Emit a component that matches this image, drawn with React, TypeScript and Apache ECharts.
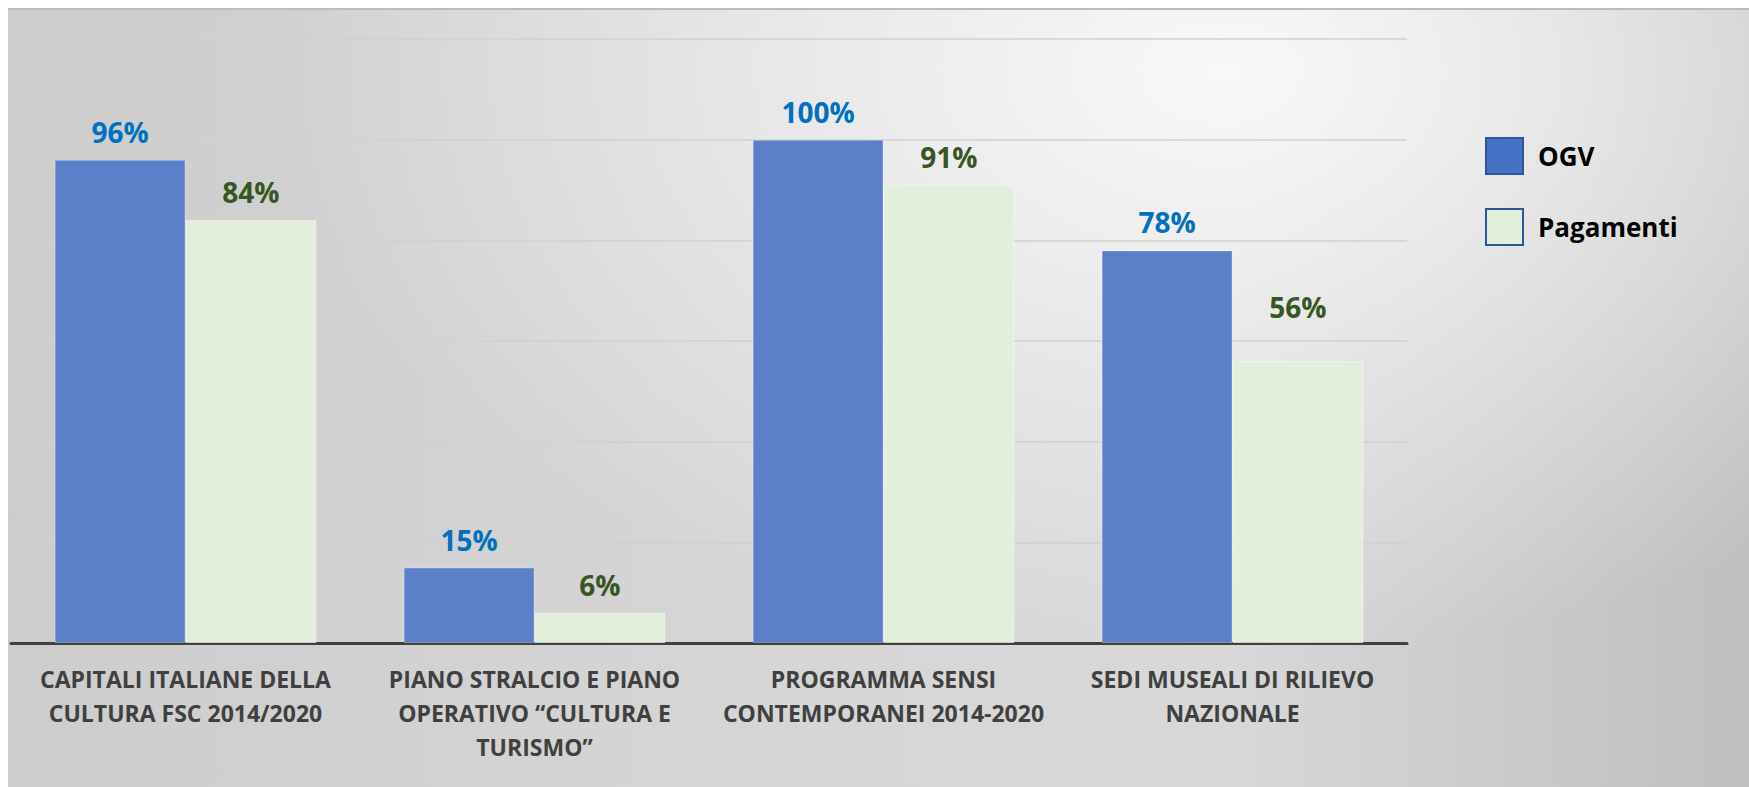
import React, { useEffect, useRef } from "react";
import * as echarts from "echarts";

const categories = [
  "CAPITALI ITALIANE DELLA\nCULTURA FSC 2014/2020",
  "PIANO STRALCIO E PIANO\nOPERATIVO “CULTURA E\nTURISMO”",
  "PROGRAMMA SENSI\nCONTEMPORANEI 2014-2020",
  "SEDI MUSEALI DI RILIEVO\nNAZIONALE",
];
const ogv = [96, 15, 100, 78];
const pagamenti = [84, 6, 91, 56];
const yTicks = [0, 20, 40, 60, 80, 100, 120];
// label offsets above bars (the 56% label sits higher in the original)
const pagamentiLabelDistance = [14, 14, 14, 40];

const FONT = "'Open Sans', Lato, sans-serif";

export default function App() {
  const ref = useRef<HTMLDivElement>(null);
  useEffect(() => {
    if (!ref.current) return;
    const chart = echarts.init(ref.current, undefined, { renderer: "svg" });
    chart.setOption({
      animation: false,
      backgroundColor: "transparent",
      textStyle: { fontFamily: FONT },
      grid: { left: 3, right: 342, top: 31, bottom: 144, containLabel: false },
      legend: {
        orient: "vertical",
        left: 1477,
        top: 129,
        padding: 0,
        itemWidth: 37,
        itemHeight: 36,
        itemGap: 33,
        icon: "rect",
        textStyle: {
          fontFamily: FONT,
          fontWeight: "bold",
          fontSize: 26,
          color: "#000000",
          padding: [0, 0, 0, 10],
        },
        data: [
          { name: "OGV", itemStyle: { color: "#4472C4", borderColor: "#2F5597", borderWidth: 2 } },
          { name: "Pagamenti", itemStyle: { color: "#E2EFDA", borderColor: "#2F5597", borderWidth: 2 } },
        ],
      },
      xAxis: {
        type: "category",
        data: categories,
        axisLine: { show: true, lineStyle: { color: "#404040", width: 3 } },
        axisTick: { show: false },
        axisLabel: {
          interval: 0,
          color: "#404040",
          fontFamily: FONT,
          fontWeight: "bold",
          fontSize: 23,
          lineHeight: 34,
          margin: 19,
          align: "center",
        },
      },
      yAxis: {
        type: "value",
        min: yTicks[0],
        max: yTicks[yTicks.length - 1],
        interval: 20,
        axisLabel: { show: false },
        axisLine: { show: false },
        axisTick: { show: false },
        splitLine: { show: true, lineStyle: { color: "#d0d0d0", width: 1.5 } },
      },
      series: [
        {
          name: "OGV",
          type: "bar",
          data: ogv,
          barGap: "0%",
          barCategoryGap: "25%",
          itemStyle: { color: "#5B80C7", borderColor: "rgba(255,255,255,0.3)", borderWidth: 1 },
          label: {
            show: true,
            position: "top",
            distance: 14,
            formatter: "{c}%",
            color: "#0070C0",
            fontFamily: FONT,
            fontWeight: "bold",
            fontSize: 28,
          },
        },
        {
          name: "Pagamenti",
          type: "bar",
          data: pagamenti.map((v, i) => ({ value: v, label: { distance: pagamentiLabelDistance[i] } })),
          barGap: "0%",
          barCategoryGap: "25%",
          itemStyle: { color: "#E2EFDA", borderColor: "rgba(255,255,255,0.5)", borderWidth: 1 },
          label: {
            show: true,
            position: "top",
            distance: 14,
            formatter: "{c}%",
            color: "#375623",
            fontFamily: FONT,
            fontWeight: "bold",
            fontSize: 28,
          },
        },
      ],
    });
    return () => chart.dispose();
  }, []);

  return (
    <div
      style={{
        position: "fixed",
        left: 8,
        top: 8,
        width: 1741,
        height: 779,
        boxSizing: "border-box",
        borderTop: "2px solid #bcbcbc",
        background:
          "radial-gradient(ellipse 55% 75% at 70% 8%, rgba(250,250,250,0.95) 0%, rgba(250,250,250,0) 100%), linear-gradient(to right, #cdcdcd 0%, #d6d6d6 45%, #d8d8d8 70%, #bfbfbf 100%)",
      }}
    >
      <div ref={ref} style={{ position: "absolute", left: 0, top: -2, width: 1741, height: 779 }} />
    </div>
  );
}
